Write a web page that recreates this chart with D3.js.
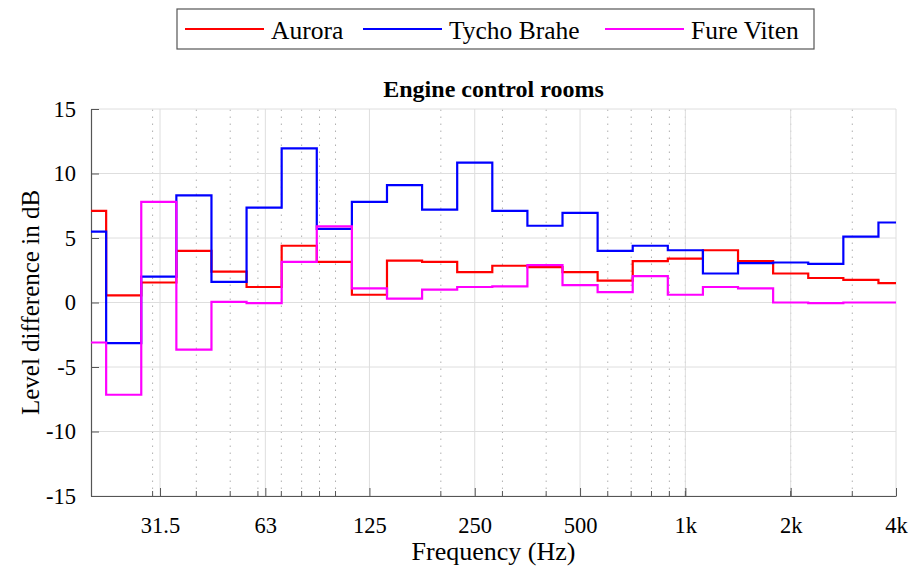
<!DOCTYPE html>
<html>
<head>
<meta charset="utf-8">
<script src="https://cdn.jsdelivr.net/npm/d3@7"></script>
<style>
  body { margin: 0; background: #fff; }
  svg text { font-family: "Liberation Serif", "Times New Roman", serif; fill: #000; }
</style>
</head>
<body>
<svg id="chart" width="913" height="574"></svg>
<script>
// third-octave band centres (nominal)
const bandCenters = [20, 25, 31.5, 40, 50, 63, 80, 100, 125, 160, 200, 250, 315, 400, 500, 630, 800, 1000, 1250, 1600, 2000, 2500, 3150, 4000];

const aurora = [7.1, 0.55, 1.55, 4.0, 2.4, 1.2, 4.4, 3.15, 0.6, 3.25, 3.15, 2.35, 2.85, 2.75, 2.35, 1.7, 3.2, 3.4, 4.05, 3.2, 2.25, 1.9, 1.75, 1.5];
const tycho = [5.5, -3.15, 2.0, 8.3, 1.6, 7.35, 11.95, 5.7, 7.8, 9.1, 7.2, 10.85, 7.1, 5.95, 6.95, 4.0, 4.4, 4.05, 2.25, 3.05, 3.1, 3.0, 5.1, 6.2];
const fureViten = [-3.1, -7.15, 7.8, -3.65, 0.05, -0.05, 3.15, 5.9, 1.1, 0.3, 1.0, 1.2, 1.25, 2.9, 1.35, 0.8, 2.05, 0.6, 1.2, 1.1, 0.0, -0.05, 0.0, 0.0];

const seriesNames = ["Aurora", "Tycho Brahe", "Fure Viten"];
const seriesColors = ["#ff0000", "#0000ff", "#ff00ff"];

const xTickValues = [31.5, 63, 125, 250, 500, 1000, 2000, 4000];
const xTickLabels = ["31.5", "63", "125", "250", "500", "1k", "2k", "4k"];
const xMinorValues = [30, 40, 50, 60, 70, 80, 90, 100, 200, 300, 400, 600, 700, 800, 900, 1000, 2000, 3000];
const yTickValues = [-15, -10, -5, 0, 5, 10, 15];

const width = 913;
const height = 574;
const margin = { top: 109, right: 17, bottom: 78, left: 91 };

const svg = d3.select("#chart");

const xScale = d3.scaleLog()
  .domain([20, 4000])
  .range([margin.left, width - margin.right]);

const yScale = d3.scaleLinear()
  .domain([-15, 15])
  .range([height - margin.bottom, margin.top]);

// grid
const grid = svg.append("g");

grid.selectAll(".minor")
  .data(xMinorValues)
  .enter()
  .append("line")
  .attr("x1", d => xScale(d))
  .attr("x2", d => xScale(d))
  .attr("y1", yScale(-15))
  .attr("y2", yScale(15))
  .attr("stroke", "#b0b0b0")
  .attr("stroke-width", 1)
  .attr("stroke-dasharray", "1.5,5.5");

grid.selectAll(".vmajor")
  .data(xTickValues)
  .enter()
  .append("line")
  .attr("x1", d => xScale(d))
  .attr("x2", d => xScale(d))
  .attr("y1", yScale(-15))
  .attr("y2", yScale(15))
  .attr("stroke", "#dedede")
  .attr("stroke-width", 1);

grid.selectAll(".hmajor")
  .data(yTickValues)
  .enter()
  .append("line")
  .attr("x1", xScale(20))
  .attr("x2", xScale(4000))
  .attr("y1", d => yScale(d))
  .attr("y2", d => yScale(d))
  .attr("stroke", "#dedede")
  .attr("stroke-width", 1);

// axes
const xAxis = d3.axisBottom(xScale)
  .tickValues(xTickValues)
  .tickFormat((d, i) => xTickLabels[i])
  .tickSizeInner(-8)
  .tickSizeOuter(0)
  .tickPadding(20);

const xAxisG = svg.append("g")
  .attr("transform", `translate(0, ${height - margin.bottom})`)
  .call(xAxis);

xAxisG.selectAll(".minor-tick")
  .data(xMinorValues)
  .enter()
  .append("line")
  .attr("x1", d => xScale(d))
  .attr("x2", d => xScale(d))
  .attr("y1", 0)
  .attr("y2", -5)
  .attr("stroke", "#555");

const yAxis = d3.axisLeft(yScale)
  .tickValues(yTickValues)
  .tickFormat(d => String(d))
  .tickSizeInner(-8)
  .tickSizeOuter(0)
  .tickPadding(15);

const yAxisG = svg.append("g")
  .attr("transform", `translate(${margin.left}, 0)`)
  .call(yAxis);

[xAxisG, yAxisG].forEach(g => {
  g.select(".domain").attr("stroke", "#555").attr("stroke-width", 1.2);
  g.selectAll(".tick line").attr("stroke", "#555");
  g.selectAll(".tick text")
    .attr("font-family", "Liberation Serif, Times New Roman, serif")
    .attr("font-size", 22.5)
    .attr("fill", "#000");
});
xAxisG.selectAll(".tick text").attr("dy", "0.74em");

// step lines
const edge = i => {
  const fc = 1000 * Math.pow(2, (i - 17) / 3);
  return [Math.max(20, fc * Math.pow(2, -1 / 6)), Math.min(4000, fc * Math.pow(2, 1 / 6))];
};

const stepPoints = values => {
  const pts = [];
  values.forEach((v, i) => {
    const [lo, hi] = edge(i);
    pts.push([lo, v], [hi, v]);
  });
  return pts;
};

const line = d3.line()
  .x(d => xScale(d[0]))
  .y(d => yScale(d[1]));

[aurora, tycho, fureViten].forEach((values, k) => {
  svg.append("path")
    .datum(stepPoints(values))
    .attr("d", line)
    .attr("fill", "none")
    .attr("stroke", seriesColors[k])
    .attr("stroke-width", 2.2)
    .attr("stroke-linejoin", "miter");
});

// labels
svg.append("text")
  .attr("x", (margin.left + width - margin.right) / 2)
  .attr("y", 97)
  .attr("text-anchor", "middle")
  .attr("font-weight", "bold")
  .attr("font-size", 24)
  .text("Engine control rooms");

svg.append("text")
  .attr("x", (margin.left + width - margin.right) / 2)
  .attr("y", 560)
  .attr("text-anchor", "middle")
  .attr("font-size", 26)
  .text("Frequency (Hz)");

svg.append("text")
  .attr("transform", `translate(39, ${yScale(0)}) rotate(-90)`)
  .attr("text-anchor", "middle")
  .attr("font-size", 25)
  .text("Level difference in dB");

// legend
const legend = svg.append("g").attr("transform", "translate(177, 9)");

legend.append("rect")
  .attr("width", 637)
  .attr("height", 40)
  .attr("fill", "#fff")
  .attr("stroke", "#555")
  .attr("stroke-width", 1.2);

const legendX = [8, 186, 428];
seriesNames.forEach((name, i) => {
  legend.append("line")
    .attr("x1", legendX[i])
    .attr("x2", legendX[i] + 79)
    .attr("y1", 20)
    .attr("y2", 20)
    .attr("stroke", seriesColors[i])
    .attr("stroke-width", 2.2);
  legend.append("text")
    .attr("x", legendX[i] + 86)
    .attr("y", 30)
    .attr("font-size", 25.5)
    .text(name);
});
</script>
</body>
</html>
